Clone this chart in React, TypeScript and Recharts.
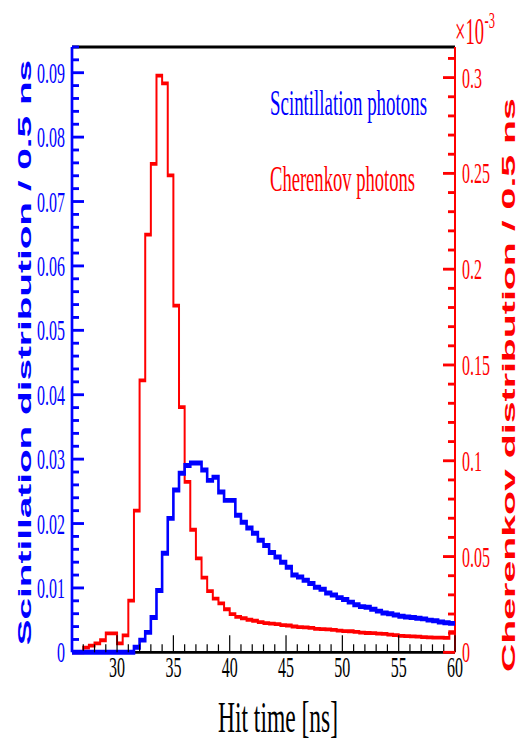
import React from 'react';
import { ComposedChart, Line, XAxis, YAxis, ReferenceLine } from 'recharts';

// Histogram binning: 0.5 ns bins from 26 ns to 60 ns
const BIN_LO = 26;
const BIN_HI = 60;
const BIN_W = 0.5;

// Scintillation photons (left axis), one value per bin starting at 26 ns
const scintillation = [
  0, 0, 0, 0, 0, 0, 0, 0, 0, 0, 0,
  0.0008, 0.0019, 0.0031, 0.0054, 0.0096, 0.0154, 0.0208, 0.0252, 0.0278, 0.029,
  0.0294, 0.0294, 0.0283, 0.0267, 0.0272, 0.0249, 0.0236, 0.0236, 0.0213, 0.0202,
  0.0193, 0.0185, 0.0174, 0.0166, 0.0155, 0.0148, 0.014, 0.0132, 0.012, 0.0117,
  0.0112, 0.0107, 0.0101, 0.0098, 0.0092, 0.0089, 0.0085, 0.0082, 0.0078, 0.0074,
  0.0071, 0.007, 0.0067, 0.0064, 0.0061, 0.006, 0.0058, 0.0056, 0.0055, 0.0054,
  0.0053, 0.0052, 0.005, 0.0049, 0.0047, 0.0046, 0.0045,
];

// Cherenkov photons (right axis, x10^-3), one value per bin starting at 26 ns
const cherenkov = [
  0, 0, 0.0025, 0.0035, 0.0047, 0.0063, 0.0099, 0.0099, 0.0047, 0.0089,
  0.027, 0.074, 0.142, 0.218, 0.255, 0.301, 0.297, 0.249, 0.181, 0.128,
  0.089, 0.064, 0.049, 0.039, 0.032, 0.028, 0.0256, 0.0225, 0.02,
  0.0185, 0.0178, 0.017, 0.0165, 0.0158, 0.0153, 0.015, 0.0147, 0.0142, 0.014,
  0.0135, 0.0132, 0.013, 0.0128, 0.0123, 0.0121, 0.012, 0.0117, 0.0113, 0.0111,
  0.011, 0.0107, 0.0103, 0.0101, 0.01, 0.0098, 0.0096, 0.0092, 0.009, 0.0086,
  0.0085, 0.0083, 0.0082, 0.0079, 0.0078, 0.0077, 0.0077, 0.0075, 0.0105,
];

const leftMajorTicks = [0, 0.01, 0.02, 0.03, 0.04, 0.05, 0.06, 0.07, 0.08, 0.09];
const leftMajorLabels = ['0', '0.01', '0.02', '0.03', '0.04', '0.05', '0.06', '0.07', '0.08', '0.09'];
const LEFT_MINOR_STEP = 0.002;
const LEFT_MAX = 0.094;

const rightMajorTicks = [0, 0.05, 0.1, 0.15, 0.2, 0.25, 0.3];
const rightMajorLabels = ['0', '0.05', '0.1', '0.15', '0.2', '0.25', '0.3'];
const RIGHT_MINOR_STEP = 0.01;
const RIGHT_MAX = 0.316;

const xMajorTicks = [30, 35, 40, 45, 50, 55, 60];
const xMajorLabels = ['30', '35', '40', '45', '50', '55', '60'];
const X_MINOR_STEP = 1;

const BLUE = '#0000ff';
const RED = '#ff0000';

// Chart drawn in a vertically compressed frame, then stretched (as the original ROOT plot)
const W = 520;
const H = 393;
const K = 747 / H;

const data = (() => {
  const rows: { t: number; s: number; c: number }[] = [];
  const n = Math.round((BIN_HI - BIN_LO) / BIN_W);
  for (let i = 0; i < n; i++) {
    rows.push({ t: BIN_LO + i * BIN_W, s: scintillation[i], c: cherenkov[i] });
  }
  rows.push({ t: BIN_HI, s: scintillation[n - 1], c: cherenkov[n - 1] });
  return rows;
})();

const makeTicks = (max: number, step: number, start = 0) => {
  const out: number[] = [];
  const n = Math.floor((max - start) / step + 1e-9);
  for (let i = 0; i <= n; i++) out.push(Number((start + i * step).toFixed(6)));
  return out;
};

const leftTicks = makeTicks(LEFT_MAX, LEFT_MINOR_STEP);
const rightTicks = makeTicks(RIGHT_MAX, RIGHT_MINOR_STEP);
const xTicks = makeTicks(BIN_HI, X_MINOR_STEP, BIN_LO + 1);

const findMajor = (arr: number[], v: number) => arr.findIndex((m) => Math.abs(m - v) < 1e-7);

const SERIF = '"Liberation Serif", "Times New Roman", serif';
const SANS = '"Liberation Sans", Arial, sans-serif';

const LeftTick = (props: any) => {
  const { x, y, payload } = props;
  const idx = findMajor(leftMajorTicks, payload.value);
  const major = idx >= 0;
  return (
    <g>
      <line x1={x} x2={x + (major ? 12 : 7)} y1={y} y2={y} stroke={BLUE} strokeWidth={1.5} />
      {major && (
        <text x={x - 7} y={y + 5.3} textAnchor="end" fontFamily={SERIF} fontSize={16} fill={BLUE}>
          {leftMajorLabels[idx]}
        </text>
      )}
    </g>
  );
};

const RightTick = (props: any) => {
  const { x, y, payload } = props;
  const idx = findMajor(rightMajorTicks, payload.value);
  const major = idx >= 0;
  return (
    <g>
      <line x1={x} x2={x - (major ? 12 : 7)} y1={y} y2={y} stroke={RED} strokeWidth={1.5} />
      {major && (
        <text x={x + 7} y={y + 5.3} textAnchor="start" fontFamily={SERIF} fontSize={16} fill={RED}>
          {rightMajorLabels[idx]}
        </text>
      )}
    </g>
  );
};

const BottomTick = (props: any) => {
  const { x, y, payload } = props;
  const idx = findMajor(xMajorTicks, payload.value);
  const major = idx >= 0;
  return (
    <g>
      <line x1={x} x2={x} y1={y} y2={y - (major ? 9 : 4.2)} stroke="#000" strokeWidth={1.2} />
      {major && (
        <text x={x} y={y + 13} textAnchor="middle" fontFamily={SERIF} fontSize={16} fill="#000">
          {xMajorLabels[idx]}
        </text>
      )}
    </g>
  );
};

export default function App() {
  return (
    <div
      style={{
        position: 'absolute',
        left: 0,
        top: 0,
        width: W,
        height: H,
        transform: `scaleY(${K})`,
        transformOrigin: '0 0',
        background: '#fff',
      }}
    >
      <ComposedChart
        width={W}
        height={H}
        data={data}
        margin={{ top: 24.7, right: 64, bottom: 48.8, left: 71 }}
      >
        <XAxis
          dataKey="t"
          type="number"
          domain={[BIN_LO, BIN_HI]}
          ticks={xTicks}
          interval={0}
          height={1}
          tickSize={0}
          tickMargin={0}
          axisLine={{ stroke: '#000', strokeWidth: 1.5 }}
          tickLine={false}
          tick={<BottomTick />}
        />
        <YAxis
          yAxisId="left"
          orientation="left"
          type="number"
          domain={[0, LEFT_MAX]}
          ticks={leftTicks}
          interval={0}
          width={1}
          tickSize={0}
          tickMargin={0}
          axisLine={{ stroke: BLUE, strokeWidth: 2.7 }}
          tickLine={false}
          tick={<LeftTick />}
        />
        <YAxis
          yAxisId="right"
          orientation="right"
          type="number"
          domain={[0, RIGHT_MAX]}
          ticks={rightTicks}
          interval={0}
          width={1}
          tickSize={0}
          tickMargin={0}
          axisLine={{ stroke: RED, strokeWidth: 2 }}
          tickLine={false}
          tick={<RightTick />}
        />
        <ReferenceLine yAxisId="left" y={LEFT_MAX} stroke="#000" strokeWidth={1.6} ifOverflow="visible" />
        <Line
          yAxisId="right"
          dataKey="c"
          type="stepAfter"
          stroke={RED}
          strokeWidth={2}
          dot={false}
          activeDot={false}
          isAnimationActive={false}
          zIndex={600}
        />
        <Line
          yAxisId="left"
          dataKey="s"
          type="stepAfter"
          stroke={BLUE}
          strokeWidth={2.6}
          dot={false}
          activeDot={false}
          isAnimationActive={false}
          zIndex={610}
        />
      </ComposedChart>
      <svg
        width={W}
        height={H}
        style={{ position: 'absolute', left: 0, top: 0, pointerEvents: 'none' }}
      >
        <text x={455} y={23} fontFamily={SERIF} fontSize={19.5} fill={RED} textLength={29} lengthAdjust="spacingAndGlyphs">×10</text>
        <text x={484.5} y={14.8} fontFamily={SERIF} fontSize={12.5} fill={RED}>-3</text>
        <text x={270} y={60.5} fontFamily={SERIF} fontSize={19} fill={BLUE} textLength={157} lengthAdjust="spacingAndGlyphs">
          Scintillation photons
        </text>
        <text x={270} y={100.5} fontFamily={SERIF} fontSize={19} fill={RED} textLength={145} lengthAdjust="spacingAndGlyphs">
          Cherenkov photons
        </text>
        <text x={278} y={385} fontFamily={SERIF} fontSize={23} fill="#000" textAnchor="middle" textLength={120} lengthAdjust="spacingAndGlyphs">
          Hit time [ns]
        </text>
        <text
          transform="translate(31,185.5) rotate(-90)"
          x={0}
          y={0}
          fontFamily={SANS}
          fontWeight="bold"
          fontSize={19}
          fill={BLUE}
          textAnchor="middle"
          textLength={308}
          lengthAdjust="spacingAndGlyphs"
        >
          Scintillation distribution / 0.5 ns
        </text>
        <text
          transform="translate(515,202.6) rotate(-90)"
          x={0}
          y={0}
          fontFamily={SANS}
          fontWeight="bold"
          fontSize={19}
          fill={RED}
          textAnchor="middle"
          textLength={302}
          lengthAdjust="spacingAndGlyphs"
        >
          Cherenkov distribution / 0.5 ns
        </text>
      </svg>
    </div>
  );
}
